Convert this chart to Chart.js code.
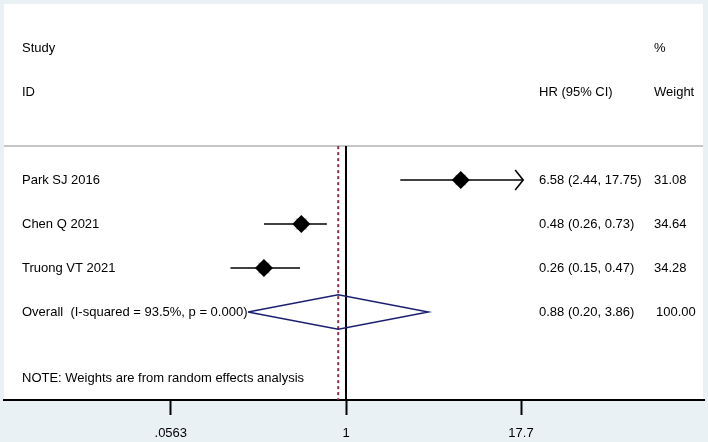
<!DOCTYPE html>
<html>
<head>
<meta charset="utf-8">
<script src="https://cdn.jsdelivr.net/npm/chart.js@4/dist/chart.umd.min.js"></script>
<style>
  html, body { margin: 0; padding: 0; background: #e9f1f5; }
  #wrap { width: 708px; height: 442px; }
</style>
</head>
<body>
<div id="wrap"><canvas id="forest"></canvas></div>
<script>
// Study data (hazard ratios with 95% CI)
const studies = ['Park SJ 2016', 'Chen Q 2021', 'Truong VT 2021'];
const hr = [6.58, 0.48, 0.26];
const ciLow = [2.44, 0.26, 0.15];
const ciHigh = [17.75, 0.73, 0.47];
const weights = [31.08, 34.64, 34.28];

// Pooled estimate
const overallLabel = 'Overall  (I-squared = 93.5%, p = 0.000)';
const overall = [0.88, 0.20, 3.86];
const overallWeight = 100.00;

// Axis ticks
const tickValues = [0.0563, 1, 17.7];
const tickLabels = ['.0563', '1', '17.7'];

// rows on the y scale
const studyRows = [3, 4, 5];
const overallRow = 6;
const headerTop = 2.23;

const fmt = v => v.toFixed(2);

const ciSets = studies.map((s, i) => ({
  type: 'line',
  data: [{x: ciLow[i], y: studyRows[i]}, {x: ciHigh[i], y: studyRows[i]}],
  borderColor: '#000',
  borderWidth: 1.6,
  pointRadius: 0,
  order: 3
}));

const boxSet = {
  type: 'scatter',
  data: hr.map((v, i) => ({x: v, y: studyRows[i]})),
  pointStyle: 'rect',
  pointRadius: weights.map(w => Math.sqrt(w) * 1.32),
  backgroundColor: '#b4b4b4',
  borderWidth: 0,
  order: 2
};

const dotSet = {
  type: 'scatter',
  data: hr.map((v, i) => ({x: v, y: studyRows[i]})),
  pointStyle: 'rectRot',
  pointRadius: 9,
  backgroundColor: '#000',
  borderWidth: 0,
  order: 1
};

const diamondSet = {
  type: 'line',
  data: [
    {x: overall[1], y: overallRow},
    {x: overall[0], y: overallRow - 0.39},
    {x: overall[2], y: overallRow},
    {x: overall[0], y: overallRow + 0.39},
    {x: overall[1], y: overallRow}
  ],
  borderColor: '#1c1f70',
  borderWidth: 1.5,
  pointRadius: 0,
  tension: 0,
  order: 1
};

const nullLine = {
  type: 'line',
  data: [{x: 1, y: headerTop}, {x: 1, y: 8}],
  borderColor: '#000',
  borderWidth: 2,
  pointRadius: 0,
  order: 4
};

const pooledLine = {
  type: 'line',
  data: [{x: overall[0], y: headerTop}, {x: overall[0], y: 8}],
  borderColor: '#8c2f4e',
  borderWidth: 2,
  borderDash: [3, 3],
  pointRadius: 0,
  order: 4
};

// background + white plot panel
const panelBg = {
  id: 'panelBg',
  beforeDraw(chart) {
    const {ctx, chartArea: a} = chart;
    ctx.save();
    ctx.fillStyle = '#e9f1f5';
    ctx.fillRect(0, 0, chart.width, chart.height);
    ctx.fillStyle = '#fff';
    ctx.fillRect(a.left, a.top, a.right - a.left - 1, a.bottom - a.top);
    // header separator
    const y = chart.scales.y.getPixelForValue(headerTop);
    ctx.strokeStyle = '#c6c6c6';
    ctx.lineWidth = 2;
    ctx.beginPath();
    ctx.moveTo(a.left, y);
    ctx.lineTo(a.right - 1, y);
    ctx.stroke();
    ctx.restore();
  }
};

// arrow where CI is cut at the axis end, plus table text
const forestText = {
  id: 'forestText',
  afterDatasetsDraw(chart) {
    const {ctx} = chart;
    const xs = chart.scales.x, ys = chart.scales.y;
    ctx.save();
    // arrow on Park SJ
    const ax = xs.getPixelForValue(ciHigh[0]) + 2;
    const ay = ys.getPixelForValue(studyRows[0]);
    ctx.strokeStyle = '#000';
    ctx.lineWidth = 1.6;
    ctx.beginPath();
    ctx.moveTo(ax - 2, ay);
    ctx.lineTo(ax, ay);
    ctx.moveTo(ax - 8, ay - 10);
    ctx.lineTo(ax, ay);
    ctx.lineTo(ax - 8, ay + 10);
    ctx.stroke();

    ctx.fillStyle = '#000';
    ctx.font = '13px "Liberation Sans", Arial, sans-serif';
    ctx.textBaseline = 'middle';
    const colLabel = 22, colHr = 539, colW = 654;
    const row = r => ys.getPixelForValue(r);
    ctx.fillText('Study', colLabel, row(0));
    ctx.fillText('ID', colLabel, row(1));
    ctx.fillText('%', colW, row(0));
    ctx.fillText('HR (95% CI)', colHr, row(1));
    ctx.fillText('Weight', colW, row(1));
    studies.forEach((s, i) => {
      const y = row(studyRows[i]);
      ctx.fillText(s, colLabel, y);
      ctx.fillText(fmt(hr[i]) + ' (' + fmt(ciLow[i]) + ', ' + fmt(ciHigh[i]) + ')', colHr, y);
      ctx.fillText(fmt(weights[i]), colW, y);
    });
    const oy = row(overallRow);
    ctx.fillText(overallLabel, colLabel, oy);
    ctx.fillText(fmt(overall[0]) + ' (' + fmt(overall[1]) + ', ' + fmt(overall[2]) + ')', colHr, oy);
    ctx.fillText(overallWeight.toFixed(2), colW + 2, oy);
    ctx.fillText('NOTE: Weights are from random effects analysis', colLabel, row(7.5));
    ctx.restore();
  }
};

new Chart(document.getElementById('forest'), {
  type: 'line',
  data: {
    datasets: [nullLine, pooledLine, ...ciSets, boxSet, dotSet, diamondSet]
  },
  options: {
    responsive: true,
    maintainAspectRatio: false,
    animation: false,
    layout: {autoPadding: false, padding: {left: 4, right: 4, top: 4, bottom: 0}},
    plugins: {legend: {display: false}, tooltip: {enabled: false}},
    scales: {
      x: {
        type: 'logarithmic',
        min: 0.00364,
        max: 357.2,
        afterBuildTicks: scale => { scale.ticks = tickValues.map(v => ({value: v})); },
        afterFit: scale => { scale.height = 42; },
        ticks: {
          autoSkip: false,
          maxRotation: 0,
          padding: 11,
          color: '#000',
          font: {family: '"Liberation Sans", Arial, sans-serif', size: 13},
          callback: (v, i) => tickLabels[i]
        },
        grid: {
          drawOnChartArea: false,
          drawTicks: true,
          tickLength: 15,
          tickWidth: 2,
          color: '#000'
        },
        border: {display: true, color: '#000', width: 2}
      },
      y: {
        type: 'linear',
        min: -1,
        max: 8,
        reverse: true,
        display: false
      }
    }
  },
  plugins: [panelBg, forestText]
});
</script>
</body>
</html>
